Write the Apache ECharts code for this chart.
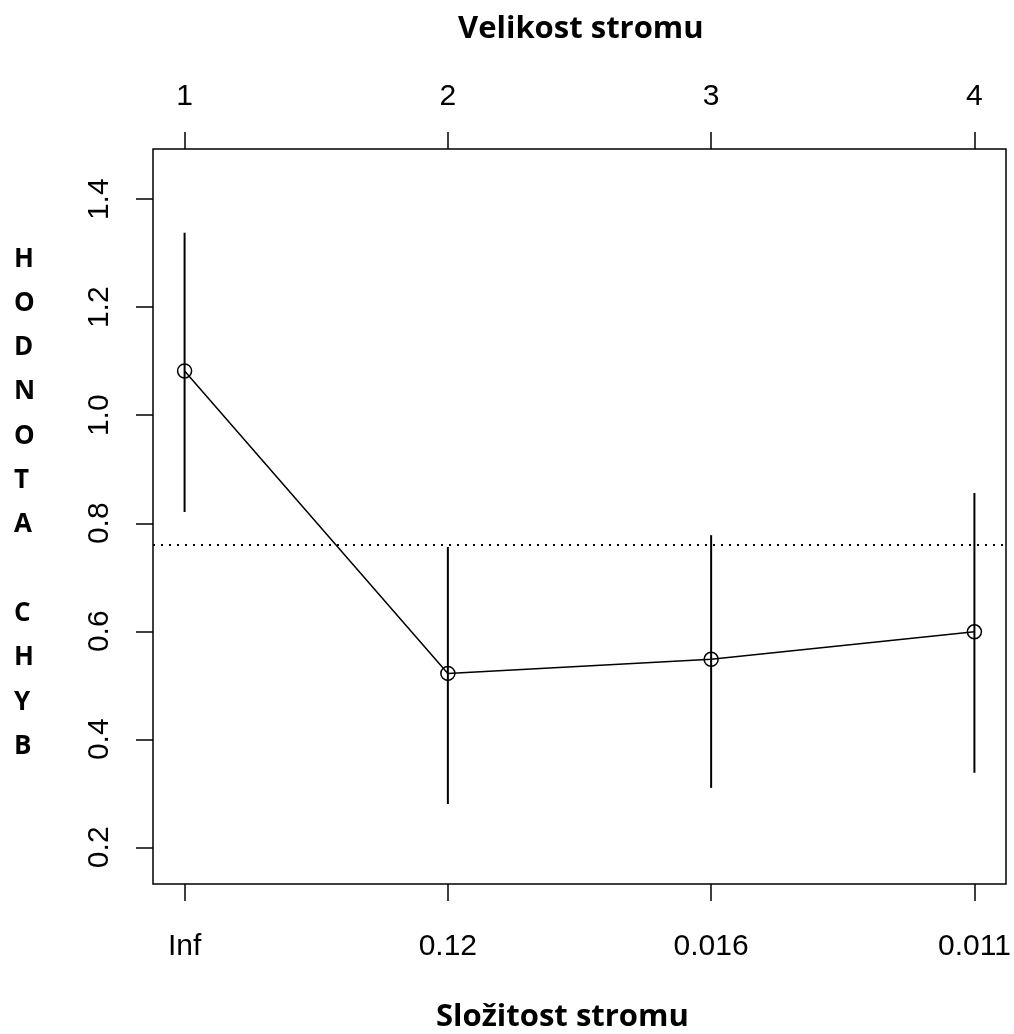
<!DOCTYPE html>
<html><head><meta charset="utf-8">
<script src="https://cdn.jsdelivr.net/npm/echarts@6/dist/echarts.min.js"></script>
<style>html,body{margin:0;padding:0;background:#fff}#c{width:1014px;height:1034px}</style>
</head><body><div id="c"></div>
<script>
const xPos = [1, 2, 3, 4];
const bottomLabels = ['Inf', '0.12', '0.016', '0.011'];
const topLabels = ['1', '2', '3', '4'];
const meanValues = [1.082, 0.522, 0.548, 0.599];
const lowValues = [0.821, 0.280, 0.310, 0.338];
const highValues = [1.338, 0.756, 0.778, 0.856];
const refLine = 0.755;
const yTicks = [0.2, 0.4, 0.6, 0.8, 1.0, 1.2, 1.4];
const yTitle = 'HODNOTA CHYB';
const topTitle = 'Velikost stromu';
const bottomTitle = 'Složitost stromu';

const chart = echarts.init(document.getElementById('c'), null, {renderer: 'canvas'});
const tickFont = {fontFamily: 'Liberation Sans, Arial, sans-serif', fontSize: 30, color: '#000'};
const titleFont = 'Open Sans, Lato, sans-serif';

const common = {
  type: 'value', min: 0.88, max: 4.12,
  splitLine: {show: false}, axisLine: {show: false},
  axisTick: {show: true, length: 17, lineStyle: {color: '#000', width: 1.5}, customValues: xPos}
};
chart.setOption({
  animation: false,
  backgroundColor: '#fff',
  grid: {left: 153, right: 8, top: 149, bottom: 150, show: true, borderColor: '#000', borderWidth: 1.5, backgroundColor: 'transparent'},
  xAxis: [
    Object.assign({}, common, {position: 'bottom',
      axisLabel: Object.assign({margin: 48, customValues: xPos, formatter: v => bottomLabels[xPos.indexOf(Math.round(v))]}, tickFont)}),
    Object.assign({}, common, {position: 'top',
      axisLabel: Object.assign({margin: 37, customValues: xPos, formatter: v => topLabels[xPos.indexOf(Math.round(v))]}, tickFont)})
  ],
  yAxis: {
    type: 'value', min: 0.132, max: 1.493,
    splitLine: {show: false}, axisLine: {show: false},
    axisTick: {show: true, length: 17, lineStyle: {color: '#000', width: 1.5}, customValues: yTicks},
    axisLabel: Object.assign({margin: 38, rotate: 90, customValues: yTicks, formatter: v => v.toFixed(1)}, tickFont)
  },
  graphic: [
    {type: 'text', left: 458, top: 14, style: {text: topTitle, font: 'bold 31px ' + titleFont, fill: '#000'}},
    {type: 'text', left: 436, top: 1002, style: {text: bottomTitle, font: 'bold 31px ' + titleFont, fill: '#000'}},
    {type: 'text', left: 14, top: 237, style: {text: yTitle.split('').join('\n'), font: 'bold 26px ' + titleFont, fill: '#000', lineHeight: 44.3, align: 'center'}}
  ],
  series: [
    {
      type: 'custom', xAxisIndex: 0, z: 3,
      data: xPos.map((x, i) => [x, lowValues[i], highValues[i]]),
      renderItem: (params, api) => {
        const p1 = api.coord([api.value(0), api.value(1)]);
        const p2 = api.coord([api.value(0), api.value(2)]);
        return {type: 'line', shape: {x1: p1[0], y1: p1[1], x2: p2[0], y2: p2[1]}, style: {stroke: '#000', lineWidth: 2}};
      }
    },
    {
      type: 'line', xAxisIndex: 0, z: 4,
      data: xPos.map((x, i) => [x, meanValues[i]]),
      symbol: 'circle', symbolSize: 14,
      lineStyle: {color: '#000', width: 1.5},
      itemStyle: {color: 'rgba(0,0,0,0)', borderColor: '#000', borderWidth: 1.5},
      markLine: {silent: true, symbol: 'none', label: {show: false},
        lineStyle: {color: '#000', type: [2, 6], width: 2},
        data: [{yAxis: refLine}]}
    }
  ]
});
</script></body></html>
